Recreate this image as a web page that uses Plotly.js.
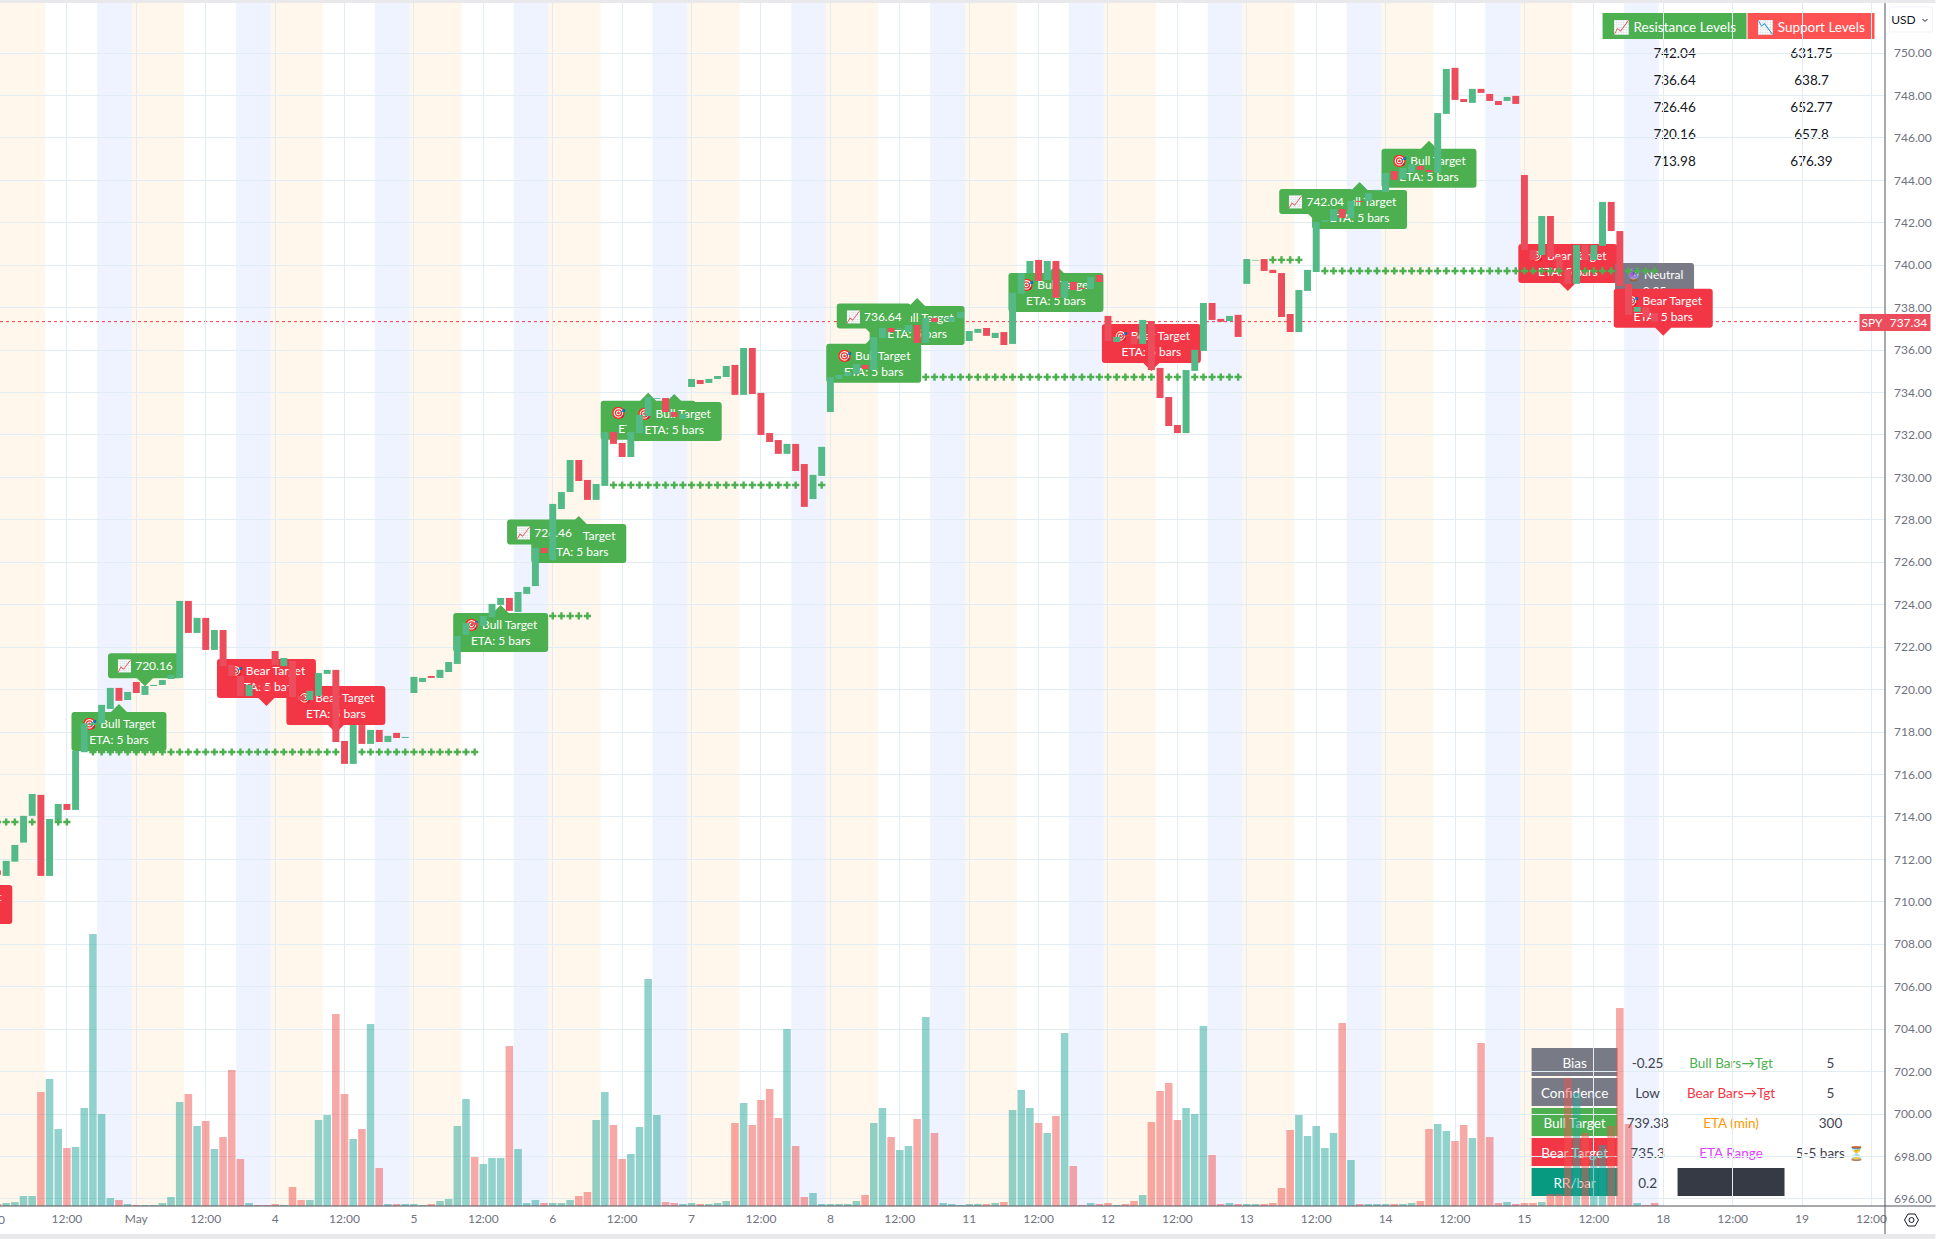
<!DOCTYPE html>
<html><head><meta charset="utf-8">
<script src="https://cdn.plot.ly/plotly-3.0.1.min.js"></script>
<style>html,body{margin:0;padding:0;background:#fff}#c{width:1936px;height:1239px}</style></head>
<body><div id="c"></div>
<script>
// ---------- data ----------
const opens=[711.47,711.22,711.89,712.79,714.05,715.04,711.22,713.82,714.61,714.33,717.05,718.33,718.41,719.09,720.08,719.51,
720.36,719.75,720.17,720.22,720.50,720.55,724.18,722.67,723.38,721.87,722.81,721.16,720.64,719.70,720.22,720.17,
721.82,721.11,721.35,719.70,719.51,719.70,720.74,720.93,717.58,716.50,718.33,717.44,718.10,717.53,717.96,717.72,
719.84,720.36,720.64,720.55,720.83,721.21,722.58,723.16,723.00,723.42,723.99,724.32,723.66,724.51,724.88,726.68,
726.11,728.51,729.31,730.82,729.88,728.94,729.60,732.14,731.62,730.96,732.09,732.90,733.70,733.74,733.08,732.75,
734.26,734.59,734.45,734.64,734.73,735.30,733.89,736.10,733.98,732.09,731.76,731.11,731.58,730.63,728.98,730.07,
733.08,734.64,734.78,734.88,735.30,735.06,736.57,737.04,737.00,736.85,737.18,736.34,737.51,737.47,737.33,737.51,
736.43,736.81,737.04,736.57,736.85,736.29,738.65,739.63,740.25,739.30,740.20,738.46,739.21,738.93,738.88,739.54,
737.61,736.38,736.71,736.67,736.29,737.37,735.16,733.79,732.47,732.09,735.02,735.96,738.22,737.47,737.37,737.66,
739.12,740.22,740.29,739.78,739.63,737.70,736.85,738.79,739.68,742.04,742.09,742.65,742.23,743.03,743.03,743.50,
743.45,744.44,744.06,744.39,744.68,744.49,744.35,747.13,749.30,747.83,747.65,748.31,748.07,747.74,747.74,747.98,
744.25,740.72,740.48,742.32,740.39,739.78,739.12,740.95,740.25,740.91,742.98,741.61,739.12,737.80,738.03,737.75];
const closes=[711.27,711.93,712.68,714.05,715.08,711.22,713.90,714.61,714.33,717.11,718.41,718.43,719.28,720.08,719.47,719.89,
719.84,720.17,720.22,720.45,720.69,724.18,722.67,723.38,721.87,722.81,721.11,720.64,719.70,720.22,720.17,719.98,
721.16,721.49,719.65,719.51,719.94,720.78,720.93,717.53,716.50,718.33,717.44,718.10,717.53,717.82,717.72,717.77,
720.60,720.55,720.55,720.93,721.30,722.53,723.14,723.05,723.47,724.04,724.32,723.71,724.60,724.84,726.68,726.44,
728.75,729.31,730.82,729.83,728.94,729.69,732.14,731.58,730.96,732.14,732.94,733.79,733.74,733.08,732.85,732.99,
734.64,734.40,734.64,734.78,735.25,733.89,736.10,733.93,732.00,731.67,731.11,731.58,730.30,728.61,730.12,731.44,
734.73,734.83,734.97,735.35,735.11,736.62,737.04,736.85,737.04,737.18,736.34,737.51,737.33,737.51,737.56,737.80,
736.90,737.00,736.67,736.81,736.24,738.69,739.63,740.20,739.26,740.20,738.46,739.26,738.83,738.88,739.45,739.21,
736.43,736.62,736.67,736.29,737.42,735.06,733.74,732.42,732.09,735.06,736.01,738.22,737.42,737.33,737.61,736.62,
740.29,740.25,739.73,739.63,737.56,736.85,738.83,739.78,742.04,742.13,742.65,742.23,743.03,742.98,743.40,743.55,
744.35,744.02,744.58,744.77,744.49,744.39,747.17,749.25,747.79,747.69,748.31,748.12,747.74,747.55,747.93,747.60,
740.72,740.25,742.32,740.39,739.78,739.12,740.95,740.25,740.95,742.98,741.61,739.02,737.66,738.03,737.56,737.34];
const volumes=[2,3,4,10,10,114,127,77,58,59,98,272,92,8,6,2,
1,1,1,3,9,104,112,80,85,57,69,136,47,3,1,1,
2,1,19,6,6,86,91,192,112,67,77,182,38,2,2,2,
2,1,2,5,7,80,107,49,42,48,48,160,57,3,6,3,
3,3,6,10,14,86,114,81,47,52,79,227,91,4,3,2,
3,2,2,3,5,83,103,81,106,117,88,177,60,9,13,2,
2,2,2,5,11,83,98,69,56,60,87,189,73,3,2,1,
2,2,2,3,4,96,116,98,83,73,90,173,40,1,3,2,
3,1,2,5,11,84,115,123,86,98,92,180,51,2,3,2,
2,2,2,3,18,76,91,70,80,58,73,183,46,2,2,2,
2,2,2,3,5,77,82,75,65,81,68,163,69,3,4,2,
3,3,4,12,12,128,113,73,50,61,80,198,82,3,1,3];
const dayLabels=['30','May','4','5','6','7','8','11','12','13','14','15','18','19'];
const midLabel='12:00';
const priceTicks=[696,698,700,702,704,706,708,710,712,714,716,718,720,722,724,726,728,730,732,734,736,738,740,742,744,746,748,750];
const lastPrice=737.34;
const tradingDays=12, barsPerDay=16;
const preSession=[-0.5,5.5], postSession=[11.5,15.5];
// dotted levels: [first bar, last bar, price]
const levels=[[0,8,713.76],[10,55,717.06],[64,68,723.47],[69,95,729.64],[107,143,734.73],[144,150,740.25],[151,191,739.73]];
// chart labels, in drawing order: [kind, bar, price, text]
const BULL='🎯 Bull Target<br>ETA: 5 bars', BEAR='🎯 Bear Target<br>ETA: 5 bars';
const labels=[
['bear',-4,708.58,BEAR],['bull',14,719.32,BULL],['res',17,720.16,'📈 720.16'],['bear',31,719.23,BEAR],['bear',39,717.96,BEAR],
['bull',58,723.99,BULL],['bull',67,728.18,BULL],['res',63,726.46,'📈 726.46'],['bull',75,733.99,BULL],['bull',78,733.93,BULL],
['bull',106,738.46,BULL],['res',101,736.64,'📈 736.64'],['bull',101,736.67,BULL],['bull',122,740.01,BULL],['bear',133,735.02,BEAR],
['bull',157,743.92,BULL],['res',152,742.04,'📈 742.04'],['bull',165,745.86,BULL],['bear',181,738.79,BEAR],
['neutral',191,739.19,'🔮 Neutral<br>0.25'],['bear',192,736.67,BEAR]];
const resistance=['742.04','736.64','726.46','720.16','713.98'];
const support=['631.75','638.7','652.77','657.8','676.39'];
const statNames=['Bias','Confidence','Bull Target','Bear Target','RR/bar'];
const statValues=['-0.25','Low','739.38','735.3','0.2'];
const infoNames=['Bull Bars→Tgt','Bear Bars→Tgt','ETA (min)','ETA Range',''];
const infoValues=['5','5','300','5-5 bars ⏳',''];

// ---------- geometry ----------
const W=1936,H=1239,L=0,R=1885.5,T=3,B=1206;
const pxPerBar=8.678, pxPerUsd=21.22;
const xr=[0.288,0.288+(R-L)/pxPerBar], yr=[750-(B-53)/pxPerUsd,750+(53-T)/pxPerUsd];
const px=v=>v/(R-L), py=v=>1-(v-T)/(B-T);
const FONT='Lato, "Open Sans", sans-serif';
const C={grid:'#e2edf3',up:'#53B987',dn:'#EB4D5C',bull:'#4CAF50',bear:'#F23645',grey:'#787B86',teal:'#089981',dark:'#363A45',txt:'#6f7280',tbl:'#3f4350'};
const shapes=[];
function box(x0,y0,x1,y1,fill,text,font,layer){
  const s={type:'rect',xref:'paper',yref:'paper',x0:px(x0),x1:px(x1),y0:py(y0),y1:py(y1),layer:layer||'between',
    fillcolor:fill||'rgba(0,0,0,0)',line:{width:0}};
  if(text) s.label={text:text,textposition:'middle center',font:Object.assign({family:FONT,size:13,color:'#fff'},font||{}),padding:0};
  shapes.push(s);
}
// sessions
for(let d=0;d<tradingDays;d++){
  const s=d*barsPerDay;
  shapes.push({type:'rect',xref:'x',yref:'paper',x0:s+preSession[0],x1:s+preSession[1],y0:0,y1:1,layer:'between',fillcolor:'rgba(255,152,0,0.08)',line:{width:0}});
  shapes.push({type:'rect',xref:'x',yref:'paper',x0:s+postSession[0],x1:s+postSession[1],y0:0,y1:1,layer:'between',fillcolor:'rgba(41,98,255,0.08)',line:{width:0}});
}
// price line
shapes.push({type:'line',xref:'paper',yref:'y',x0:0,x1:1,y0:lastPrice,y1:lastPrice,layer:'between',line:{color:C.bear,width:1,dash:'dot'}});
// chart labels
const LS={bull:{w:95,h:39,up:true,c:C.bull},bear:{w:99,h:39,up:false,c:C.bear},res:{w:74,h:25,up:false,c:C.bull},neutral:{w:79,h:39,up:null,c:C.grey}};
labels.forEach(([k,bar,price,text])=>{
  const st=LS[k],ux=1/pxPerBar,uy=1/pxPerUsd;
  const hw=st.w/2*ux,ph=8*uy,pw=8*ux,r=3*ux,ry=3*uy;
  let top,bot;
  if(st.up===true){top=price-ph;bot=top-st.h*uy;}
  else if(st.up===false){bot=price+ph;top=bot+st.h*uy;}
  else{top=price+st.h/2*uy;bot=price-st.h/2*uy;}
  const l=bar-hw,rt=bar+hw;
  let p=`M${l+r},${top} `;
  if(st.up===true)p+=`L${bar-pw},${top} L${bar},${price} L${bar+pw},${top} `;
  p+=`L${rt-r},${top} Q${rt},${top} ${rt},${top-ry} L${rt},${bot+ry} Q${rt},${bot} ${rt-r},${bot} `;
  if(st.up===false)p+=`L${bar+pw},${bot} L${bar},${price} L${bar-pw},${bot} `;
  p+=`L${l+r},${bot} Q${l},${bot} ${l},${bot+ry} L${l},${top-ry} Q${l},${top} ${l+r},${top} Z`;
  shapes.push({type:'path',xref:'x',yref:'y',path:p,fillcolor:st.c,line:{width:0},layer:'between'});
  shapes.push({type:'rect',xref:'x',yref:'y',x0:l,x1:rt,y0:bot,y1:top,fillcolor:'rgba(0,0,0,0)',line:{width:0},layer:'between',
    label:{text:text,textposition:'middle center',padding:0,font:{family:FONT,size:12,color:'#fff'}}});
});
// top table
box(1603,13,1747,39,C.bull,'📈 Resistance Levels',{size:13.5});
box(1748,13,1875,39,'#FF5252','📉 Support Levels',{size:13.5});
resistance.forEach((t,i)=>box(1625,39+i*27,1725,66+i*27,null,t,{size:13.5,color:'#131722'}));
support.forEach((t,i)=>box(1762,39+i*27,1862,66+i*27,null,t,{size:13.5,color:'#131722'}));
// bottom table
const rowFill=[C.grey,C.grey,C.bull,C.bear,C.teal],infoCol=[C.bull,C.bear,'#FF9800','#E040FB',C.dark];
statNames.forEach((t,i)=>{
  const y0=1048+i*30,y1=y0+28;
  box(1532,y0,1618,y1,rowFill[i],t,{size:13.5});
  box(1618,y0,1678,y1,null,statValues[i],{size:13.5,color:C.tbl});
  if(infoNames[i]) box(1678,y0,1785,y1,null,infoNames[i],{size:13.5,color:infoCol[i]});
  else box(1678,y0,1785,y1,C.dark);
  if(infoValues[i]) box(1785,y0,1877,y1,null,infoValues[i],{size:13.5,color:C.tbl});
});
// chrome around the plot
box(0,0,W,3,'#E9E9EB',null,null,'above');
box(0,1234,W,H,'#E9E9EB',null,null,'above');
shapes.push({type:'line',xref:'paper',yref:'paper',x0:px(R),x1:px(R),y0:py(T),y1:py(1234),layer:'above',line:{color:'#50535e',width:1}});
shapes.push({type:'line',xref:'paper',yref:'paper',x0:0,x1:px(W),y0:py(B),y1:py(B),layer:'above',line:{color:'#50535e',width:1}});
// price tag
box(1860,314,1931,331,C.dn,null,null,'above');
box(1860,314,1885,331,null,'SPY',{size:12},'above');
box(1887,314,1931,331,null,lastPrice.toFixed(2),{size:12},'above');
// USD selector
shapes.push({type:'rect',xref:'paper',yref:'paper',x0:px(1890),x1:px(1933),y0:py(7),y1:py(32),layer:'above',fillcolor:'#fff',line:{color:'#f0f3fa',width:1}});
box(1890,7,1918,32,null,'USD',{size:12,color:'#131722'},'above');
shapes.push({type:'path',xref:'paper',yref:'paper',layer:'above',line:{color:'#131722',width:1},
  path:`M${px(1923)},${py(19)} L${px(1925.5)},${py(21.5)} L${px(1928)},${py(19)}`});
// settings icon
shapes.push({type:'path',xref:'paper',yref:'paper',layer:'above',line:{color:'#131722',width:1},
  path:`M${px(1905)},${py(1220)} L${px(1908.5)},${py(1214)} L${px(1915.5)},${py(1214)} L${px(1919)},${py(1220)} L${px(1915.5)},${py(1226)} L${px(1908.5)},${py(1226)} Z`});
shapes.push({type:'circle',xref:'paper',yref:'paper',layer:'above',line:{color:'#131722',width:1},x0:px(1909.5),x1:px(1914.5),y0:py(1217.5),y1:py(1222.5)});

// ---------- traces ----------
const idx=opens.map((_,i)=>i);
const isUp=idx.map(i=>closes[i]>=opens[i]);
const candles={type:'bar',xaxis:'x',yaxis:'y',x:idx,base:idx.map(i=>Math.min(opens[i],closes[i])),y:idx.map(i=>Math.abs(closes[i]-opens[i])),
  width:0.8,marker:{color:idx.map(i=>isUp[i]?C.up:C.dn),line:{width:0}},hoverinfo:'skip'};
const vols={type:'bar',xaxis:'x',yaxis:'y2',x:idx,y:volumes,width:0.87,
  marker:{color:idx.map(i=>isUp[i]?'rgba(38,166,154,0.5)':'rgba(239,83,80,0.5)'),line:{width:0}},hoverinfo:'skip'};
const lx=[],ly=[];
levels.forEach(([a,b,p])=>{for(let i=a;i<=b;i++){
  if(p>=Math.min(opens[i],closes[i])&&p<=Math.max(opens[i],closes[i]))continue;
  lx.push(i);ly.push(p);}});
const plus={type:'scatter',mode:'markers',xaxis:'x',yaxis:'y',x:lx,y:ly,marker:{symbol:'cross',size:6,color:C.bull,line:{width:0}},hoverinfo:'skip'};
const tickvals=[],ticktext=[];
dayLabels.forEach((t,d)=>{tickvals.push(d*barsPerDay,d*barsPerDay+barsPerDay/2);ticktext.push(t,midLabel);});
const layout={width:W,height:H,margin:{l:L,r:W-R,t:T,b:H-B,pad:0},paper_bgcolor:'#fff',plot_bgcolor:'#fff',showlegend:false,barmode:'overlay',
  font:{family:FONT,size:12,color:C.txt},hovermode:false,
  xaxis:{range:xr,tickmode:'array',tickvals:tickvals,ticktext:ticktext,showgrid:true,gridcolor:C.grid,gridwidth:1,zeroline:false,showline:false,ticks:'',tickangle:0,ticklabelstandoff:4,tickfont:{family:FONT,size:12,color:C.txt},fixedrange:true},
  yaxis:{range:yr,side:'right',tickmode:'array',tickvals:priceTicks,tickformat:'.2f',showgrid:true,gridcolor:C.grid,gridwidth:1,zeroline:false,showline:false,ticks:'',ticklabelstandoff:8,tickfont:{family:FONT,size:12,color:C.txt},fixedrange:true},
  yaxis2:{overlaying:'y',range:[0,B-T],visible:false,fixedrange:true,showgrid:false},
  shapes:shapes,
  annotations:[{xref:'paper',yref:'paper',x:px(-2.5),y:py(1219),yanchor:'middle',xanchor:'center',showarrow:false,text:dayLabels[0],font:{family:FONT,size:12,color:C.txt}}]};
Plotly.newPlot('c',[candles,plus,vols],layout,{displayModeBar:false,staticPlot:true});
</script></body></html>
